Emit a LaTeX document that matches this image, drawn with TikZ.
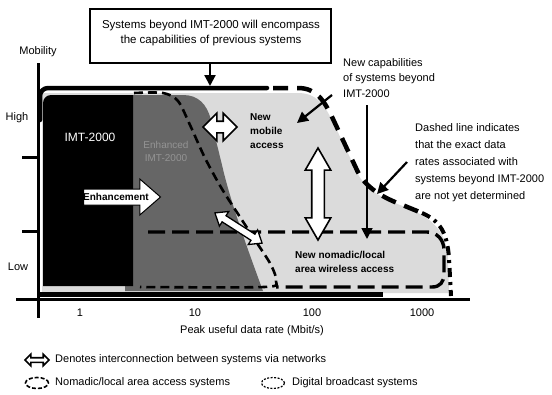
\documentclass[tikz,border=0pt]{standalone}
\usepackage{fontspec}
\setmainfont{Liberation Sans}
\usetikzlibrary{shapes.arrows,shapes.geometric,arrows.meta}
\begin{document}
\begin{tikzpicture}[x=1pt,y=-1pt,
  txt/.style={inner sep=0pt, font=\fontsize{11}{13}\selectfont},
  boldtxt/.style={inner sep=0pt, font=\bfseries\fontsize{10}{14}\selectfont},
  lightfill/.style={fill=black!14},
  darkfill/.style={fill=black!60},
  outerline/.style={line width=4.5pt, line cap=round, line join=round},
  outerdash/.style={line width=4.5pt, dash pattern=on 15pt off 9pt},
  outerdot/.style={line width=4pt, dash pattern=on 9pt off 5pt on 3pt off 5pt},
  enhdash/.style={line width=2.6pt, dash pattern=on 9pt off 5pt},
  nomdash/.style={line width=3.4pt, dash pattern=on 17pt off 7pt},
  axisline/.style={line width=3pt},
  pointer/.style={line width=2.2pt, -{Triangle[length=11pt,width=11pt]}},
  wdbl/.style={double arrow, draw=black, fill=white, line width=1.6pt, inner sep=0pt, double arrow tip angle=90},
]
\useasboundingbox (0,0) rectangle (552,394);

% regions
\fill[lightfill] (42,93) -- (298,93) .. controls (316,93) and (324,104) .. (333,122) -- (356,170) .. controls (363,187) and (379,197) .. (400,205) .. controls (426,215) and (446,226) .. (448,258) -- (449,293) -- (42,293) -- cycle;
\fill[darkfill] (125,95) -- (183,95) .. controls (198,95) and (207,104) .. (211,120) -- (222,165) .. controls (230,200) and (246,245) .. (263,291) -- (125,291) -- cycle;
\fill[black] (43,286) -- (43,103) .. controls (43,98.6) and (46.6,95) .. (51,95) -- (133,95) -- (133,286) -- cycle;

% dashed boundaries
\draw[enhdash] plot[smooth, tension=0.5] coordinates {(134,93) (163,93) (178,101) (190,125) (205,158) (222,189) (240,217) (257,243) (271,265) (276,281) (264,287) (140,287)};
\draw[nomdash] (148,232) -- (427,232) .. controls (437,232) and (444,240) .. (444,250) -- (444,274) .. controls (444,282) and (440,287) .. (432,287) -- (276,287);

% outer boundary
\draw[outerline] (40,120) -- (40,96) .. controls (40,91.6) and (43.6,88) .. (48,88) -- (267,88);
\draw[line width=5pt] (40,294) -- (383,294);
\draw[outerdash] (273,88) -- (298,88) .. controls (316,88) and (324,100) .. (333,119) -- (356,168) .. controls (363,185) and (379,196) .. (400,204) -- (422,213);
\draw[outerdot] (422,213) .. controls (440,221) and (447,232) .. (449,258) -- (451,296);

% axes
\coordinate (ytop) at (38,63);
\coordinate (ybot) at (38,318);
\draw[axisline] (ytop) -- (ybot);
\coordinate (xl) at (16,299);
\coordinate (xr) at (470,299);
\draw[axisline] (xl) -- (xr);
\coordinate (th1) at (22,157);
\coordinate (th2) at (22,231);
\draw[axisline] (th1) -- (th1 -| ytop);
\draw[axisline] (th2) -- (th2 -| ytop);

% title box
\node[draw, line width=2.2pt, minimum width=241pt, minimum height=54pt, inner sep=0pt] (tbox) at (210.5,36) {};
\node[txt, font=\fontsize{11.5}{15.5}\selectfont, align=center] (title) at (211,33) {Systems beyond IMT-2000 will encompass\\the capabilities of previous systems};
\coordinate (tt) at (210,86);
\draw[pointer] (tbox.south -| tt) -- (tt);

% pointers
\coordinate (nc1s) at (332,95);
\coordinate (nc1e) at (297,123);
\draw[pointer] (nc1s) -- (nc1e);
\coordinate (nc2s) at (367,105);
\coordinate (nc2e) at (367,239);
\draw[pointer, line width=1.8pt] (nc2s) -- (nc2e);
\coordinate (dls) at (407,162);
\coordinate (dle) at (377,194);
\draw[pointer] (dls) -- (dle);

% interconnection arrows
\node[wdbl, minimum height=34pt, double arrow head extend=8pt] (ha) at (220,127) {\rule{0pt}{10pt}};
\node[wdbl, minimum height=92pt, double arrow head extend=6.5pt, double arrow tip angle=60, rotate=90] (va) at (318,194) {\rule{0pt}{11pt}};
\node[wdbl, minimum height=56pt, double arrow head extend=5pt, double arrow tip angle=77, rotate=-32.6, line width=1.3pt] (da) at (238.5,228) {\rule{0pt}{6pt}};

% enhancement arrow
\node[single arrow, draw=black, fill=white, line width=1pt, inner sep=0pt, single arrow head extend=10pt, single arrow tip angle=82, minimum height=77pt, anchor=tail] (enh) at (83,197) {\rule[-7.5pt]{0pt}{15pt}};
\node[boldtxt] (enhtxt) at (116,197) {Enhancement};

% labels
\node[txt] (mob) at (38,52) {Mobility};
\node[txt] (high) at (17,118) {High};
\node[txt] (low) at (18,267) {Low};
\node[txt] (t1) at (80,313) {1};
\node[txt] (t10) at (195,313) {10};
\node[txt] (t100) at (312,313) {100};
\node[txt] (t1000) at (422,313) {1000};
\node[txt] (xlab) at (252,331) {Peak useful data rate (Mbit/s)};
\node[txt, text=white, font=\fontsize{12}{14}\selectfont] (imt) at (90,137) {IMT-2000};
\node[txt, text=black!42, font=\fontsize{10}{13}\selectfont, align=center] (eimt) at (166,151) {Enhanced\\IMT-2000};
\node[boldtxt, align=left, anchor=west] (nma) at (250,131) {New\\mobile\\access};
\node[boldtxt, align=left, anchor=west] (nna) at (295,262) {New nomadic/local\\area wireless access};
\node[txt, align=left, anchor=west, font=\fontsize{11}{15.5}\selectfont] (ncap) at (343,78) {New capabilities\\of systems beyond\\IMT-2000};
\node[txt, align=left, anchor=west, font=\fontsize{11}{17}\selectfont] (dash) at (415,163) {Dashed line indicates\\that the exact data\\rates associated with\\systems beyond IMT-2000\\are not yet determined};

% legend
\node[wdbl, minimum height=24pt, double arrow head extend=3.5pt, line width=1.6pt] (lga) at (37,360) {\rule{0pt}{3pt}};
\node[txt, anchor=west] (lgt1) at (55,360) {Denotes interconnection between systems via networks};
\node[draw, ellipse, line width=1.6pt, dash pattern=on 4pt off 2pt, minimum width=23pt, minimum height=11pt, inner sep=0pt] (lge1) at (37,383) {};
\node[txt, anchor=west] (lgt2) at (55,383) {Nomadic/local area access systems};
\node[draw, ellipse, line width=1.2pt, dash pattern=on 2pt off 1.5pt, minimum width=23pt, minimum height=11pt, inner sep=0pt] (lge2) at (273,383) {};
\node[txt, anchor=west] (lgt3) at (292,383) {Digital broadcast systems};
\end{tikzpicture}
\end{document}
